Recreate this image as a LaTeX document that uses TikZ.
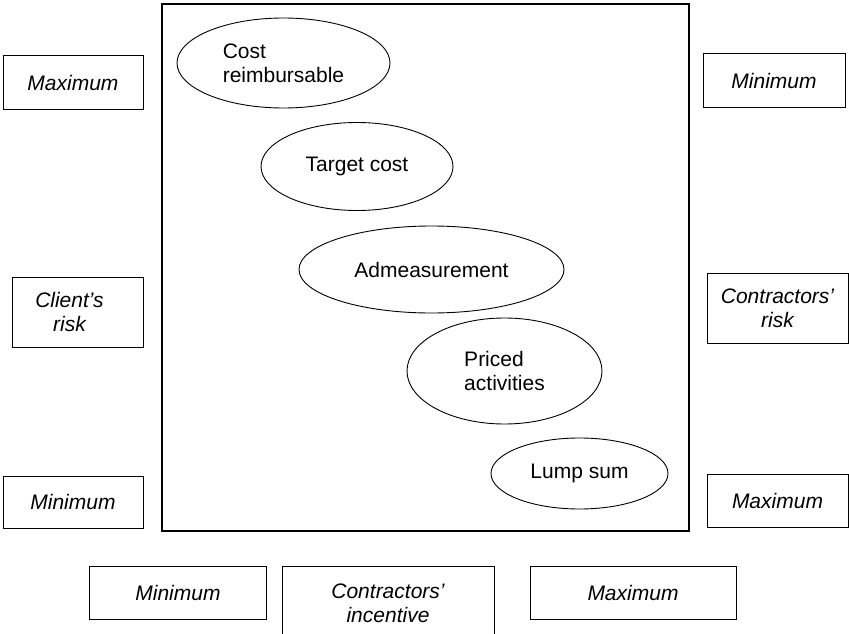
\documentclass[tikz,border=0pt]{standalone}
\usepackage{fontspec}
\setmainfont{Liberation Sans}
\usetikzlibrary{shapes.geometric}
\begin{document}
\begin{tikzpicture}[x=1pt,y=-1pt,
  every node/.style={font=\fontsize{21}{24}\selectfont, inner sep=0pt},
  scalebox/.style={draw, line width=1pt, align=center, font=\fontsize{21}{24}\selectfont\itshape},
  contract/.style={ellipse, draw, line width=0.9pt, align=left}]
\useasboundingbox (0,0) rectangle (849,634);
\clip (0,0) rectangle (849,634);

% central frame
\node[draw, line width=1.2pt, minimum width=527pt, minimum height=527pt] (frame) at (425.5,267.5) {};

% contract types
\node[contract, minimum width=213pt, minimum height=90pt] (cr) at (283.5,63) {Cost\\reimbursable};
\node[contract, minimum width=192pt, minimum height=88pt] (tc) at (357,166.5) {Target cost};
\node[contract, minimum width=265pt, minimum height=87pt] (ad) at (431.5,269.5) {Admeasurement};
\node[contract, minimum width=195pt, minimum height=106pt] (pa) at (504.5,371) {Priced\\activities};
\node[contract, minimum width=177pt, minimum height=71pt] (ls) at (579.5,473.5) {Lump sum};

% client's risk scale (label sits a little left of the box centre)
\node[scalebox, minimum width=140pt, minimum height=53pt] (clmax) at (73,82.5) {Maximum};
\node[scalebox, minimum width=131pt, minimum height=70pt] (clrisk) at (77.5,312)
  {Client’s\hspace*{16pt}\\risk\hspace*{16pt}};
\node[scalebox, minimum width=140pt, minimum height=52pt] (clmin) at (73,502) {Minimum};

% contractors' risk scale
\node[scalebox, minimum width=142pt, minimum height=53pt] (comin) at (774,80.5) {Minimum};
\node[scalebox, minimum width=141pt, minimum height=70pt] (corisk) at (777.5,308) {Contractors’\\risk};
\node[scalebox, minimum width=141pt, minimum height=53pt] (comax) at (777.5,500.5) {Maximum};

% contractors' incentive scale
\node[scalebox, minimum width=177pt, minimum height=53pt] (inmin) at (178,592.5) {Minimum};
\node[scalebox, minimum width=212pt, minimum height=74pt] (incent) at (388,603) {Contractors’\\incentive};
\node[scalebox, minimum width=206pt, minimum height=53pt] (inmax) at (633,592.5) {Maximum};
\end{tikzpicture}
\end{document}
